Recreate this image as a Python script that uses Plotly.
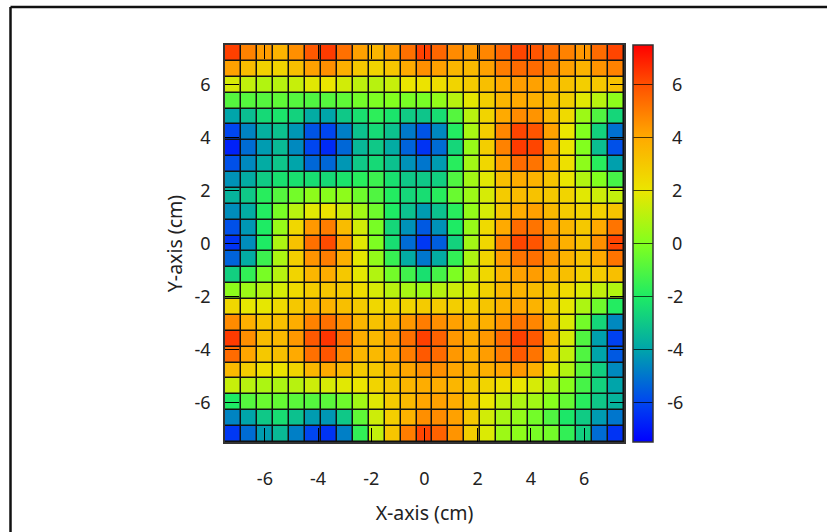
import plotly.graph_objects as go

x_centers = [-7.2, -6.6, -6.0, -5.4, -4.8, -4.2, -3.6, -3.0, -2.4, -1.8, -1.2, -0.6, 0.0,
             0.6, 1.2, 1.8, 2.4, 3.0, 3.6, 4.2, 4.8, 5.4, 6.0, 6.6, 7.2]
y_centers = list(reversed(x_centers))
tick_values = [-6, -4, -2, 0, 2, 4, 6]
x_title = "X-axis (cm)"
y_title = "Y-axis (cm)"

# rows from the top (y = 7.2) to the bottom (y = -7.2), estimated from the colours
z_rows = [
    [6.3, 4.9, 4.3, 3.7, 4.6, 5.8, 6.4, 5.3, 4.2, 3.6, 4.3, 5.3, 6.3, 5.5, 4.7, 4.4, 4.8, 5.5, 6.2, 5.9, 5.4, 4.9, 4.4, 5.4, 6.2],
    [4.2, 3.4, 2.7, 2.6, 3.3, 4.2, 4.6, 3.8, 3.0, 2.6, 3.1, 4.0, 4.6, 4.2, 3.6, 3.5, 4.2, 5.0, 5.4, 5.4, 4.9, 4.2, 3.7, 4.5, 4.9],
    [1.6, 1.2, 0.9, 1.0, 1.3, 1.8, 2.0, 1.5, 1.1, 1.0, 1.3, 2.0, 2.1, 2.3, 2.6, 2.9, 3.3, 4.0, 4.3, 4.2, 3.8, 3.2, 2.8, 3.0, 3.2],
    [-0.9, -0.9, -0.9, -0.7, -0.9, -1.0, -0.9, -0.7, -0.3, -0.1, 0.0, -0.2, -0.2, 0.3, 1.0, 1.9, 2.8, 3.6, 4.0, 3.8, 3.4, 2.8, 1.8, 1.0, 0.2],
    [-4.0, -3.3, -2.5, -2.2, -2.7, -3.8, -4.0, -3.0, -2.3, -1.7, -2.2, -2.9, -3.1, -2.4, -0.9, 1.0, 2.6, 4.0, 4.7, 4.5, 3.5, 2.4, 0.5, -1.0, -2.6],
    [-6.0, -4.7, -3.7, -3.2, -4.3, -5.7, -6.0, -4.8, -3.2, -2.5, -3.2, -4.9, -5.7, -4.6, -1.9, 0.7, 2.8, 4.8, 6.2, 5.9, 4.2, 2.0, 0.0, -2.7, -5.1],
    [-6.8, -5.2, -4.2, -3.4, -4.6, -6.0, -6.6, -5.3, -3.5, -3.0, -3.8, -5.4, -6.4, -5.2, -2.6, 0.4, 2.8, 4.9, 6.4, 6.2, 4.2, 2.0, 0.0, -3.3, -5.8],
    [-5.8, -4.6, -3.8, -3.1, -4.0, -5.3, -5.3, -4.3, -3.0, -2.5, -3.2, -4.4, -5.0, -4.2, -1.8, 0.6, 2.5, 4.2, 5.4, 5.2, 4.0, 2.2, 0.2, -1.8, -4.1],
    [-4.4, -3.8, -2.9, -2.3, -2.3, -2.4, -2.5, -2.2, -1.8, -1.4, -2.3, -3.0, -3.0, -2.8, -1.0, 0.6, 1.8, 3.3, 3.9, 3.7, 3.1, 2.0, 0.9, 0.0, -1.2],
    [-3.6, -3.0, -1.8, -0.9, -0.3, 0.2, 0.1, 0.2, -0.4, -1.0, -1.9, -2.6, -2.4, -1.8, -0.5, 0.5, 1.6, 2.9, 3.4, 3.2, 3.0, 2.6, 1.8, 1.4, 1.2],
    [-4.5, -3.8, -1.9, -0.2, 1.0, 1.8, 2.1, 1.4, 0.6, -0.4, -2.0, -3.2, -4.2, -3.2, -1.8, 0.3, 1.6, 3.0, 3.9, 4.2, 3.5, 2.9, 2.6, 2.7, 3.1],
    [-5.8, -4.3, -2.0, 0.4, 2.5, 4.4, 5.0, 3.4, 1.5, -0.2, -2.6, -4.4, -5.6, -4.4, -2.0, 0.4, 2.4, 4.0, 5.4, 5.2, 4.3, 3.6, 3.0, 4.0, 5.2],
    [-6.4, -4.5, -2.0, 0.8, 3.2, 5.3, 6.1, 4.3, 1.8, -0.1, -2.4, -5.2, -6.3, -5.5, -2.7, 0.6, 2.5, 4.9, 6.2, 5.9, 4.6, 3.8, 3.2, 4.6, 6.2],
    [-5.4, -3.8, -1.4, 0.8, 2.8, 4.5, 5.0, 3.8, 1.9, 0.3, -1.5, -3.8, -5.0, -3.8, -1.6, 0.8, 2.6, 4.3, 5.2, 5.3, 4.4, 3.7, 3.2, 4.0, 5.2],
    [-2.8, -1.6, -0.2, 1.0, 2.6, 3.6, 3.9, 3.0, 1.9, 0.9, -0.3, -1.3, -2.3, -1.2, -0.1, 1.2, 2.5, 3.6, 4.2, 4.3, 3.6, 3.3, 2.7, 2.9, 3.3],
    [0.2, 0.5, 1.0, 1.6, 2.4, 2.9, 3.1, 2.9, 2.3, 1.6, 1.0, 0.7, 0.5, 1.0, 1.4, 1.7, 2.7, 3.5, 3.7, 3.4, 3.0, 2.4, 1.7, 1.2, 0.9],
    [2.5, 1.9, 1.9, 2.4, 3.0, 3.5, 3.7, 3.3, 2.9, 2.5, 2.5, 2.6, 2.9, 2.9, 2.8, 2.7, 3.1, 3.7, 4.1, 3.7, 2.9, 1.9, 0.8, -0.4, -1.9],
    [4.7, 3.8, 3.1, 3.3, 3.9, 4.9, 5.3, 4.6, 3.6, 3.2, 3.6, 4.4, 5.0, 4.6, 4.2, 3.6, 3.8, 4.5, 5.2, 4.8, 3.4, 1.7, -0.3, -2.6, -4.6],
    [6.4, 4.6, 3.4, 3.5, 4.4, 5.8, 6.5, 5.3, 3.9, 3.5, 4.2, 5.3, 6.3, 5.6, 4.4, 3.9, 4.4, 5.4, 6.3, 5.8, 3.8, 1.6, -1.0, -4.1, -6.1],
    [5.4, 4.1, 3.0, 3.3, 4.0, 5.3, 5.9, 4.7, 3.6, 3.5, 4.0, 5.0, 5.8, 5.4, 4.4, 3.8, 4.3, 5.0, 5.8, 5.2, 3.2, 1.2, -1.0, -4.0, -5.6],
    [3.5, 2.8, 2.2, 2.1, 2.6, 3.6, 4.0, 3.5, 2.9, 3.0, 3.6, 4.1, 4.6, 4.6, 4.1, 3.7, 3.8, 4.1, 4.4, 3.8, 2.3, 0.9, -0.8, -2.8, -4.6],
    [1.3, 1.0, 0.8, 0.8, 1.0, 1.4, 1.6, 1.8, 2.0, 2.6, 3.0, 3.6, 3.9, 3.9, 3.6, 3.0, 2.6, 2.2, 2.0, 1.6, 1.0, 0.1, -1.2, -2.7, -4.0],
    [-2.0, -0.9, -0.5, -0.6, -0.8, -0.9, -0.8, -0.4, 0.6, 1.8, 2.9, 3.5, 4.1, 4.2, 3.9, 3.0, 2.0, 1.2, 0.8, 0.6, 0.1, -0.6, -1.8, -3.0, -3.6],
    [-4.7, -4.0, -3.0, -2.4, -3.2, -4.2, -4.3, -3.0, -0.7, 1.4, 2.8, 3.7, 4.6, 4.7, 4.2, 3.0, 1.5, 0.7, 0.3, -0.3, -1.0, -2.1, -2.9, -4.2, -5.0],
    [-6.3, -5.2, -4.2, -3.4, -4.8, -6.0, -6.4, -4.8, -1.6, 1.2, 3.1, 5.0, 6.2, 5.6, 4.5, 2.8, 1.7, 0.5, 0.2, -0.2, -0.3, -1.6, -2.8, -5.2, -6.4],
]

z_min, z_max = -7.5, 7.5
colorscale = [
    [0.0, "rgb(0,0,255)"],
    [0.1, "rgb(0,70,240)"],
    [0.2333, "rgb(0,165,170)"],
    [0.3667, "rgb(30,235,100)"],
    [0.5, "rgb(130,255,30)"],
    [0.6333, "rgb(235,230,0)"],
    [0.7667, "rgb(255,170,0)"],
    [0.9, "rgb(255,80,0)"],
    [1.0, "rgb(255,0,0)"],
]

FONT = "Noto Sans"
TXT = "#222222"
SIZE = 18
TITLE_SIZE = 19.5
tick_labels = [str(v) for v in tick_values]
bar_labels = [("\u00a0\u00a0" if v < 0 else "\u00a0\u00a0\u00a0") + str(v) for v in tick_values]

fig = go.Figure(go.Heatmap(
    x=x_centers, y=y_centers, z=z_rows, zmin=z_min, zmax=z_max,
    colorscale=colorscale, xgap=1.5, ygap=1.5,
    colorbar=dict(
        x=(633 - 225) / 399, xanchor="left", y=0.5, yanchor="middle",
        thickness=20, thicknessmode="pixels",
        len=1, lenmode="fraction",
        outlinecolor="#333333", outlinewidth=1.5,
        tickmode="array", tickvals=tick_values, ticktext=bar_labels,
        ticks="inside", ticklen=20, tickcolor="rgba(0,0,0,0.7)", tickwidth=1,
        tickfont=dict(family=FONT, size=SIZE, color=TXT),
        xpad=0, ypad=0,
    ),
))

axis_common = dict(
    range=[-7.5, 7.5], tickmode="array", tickvals=tick_values, ticktext=tick_labels,
    ticks="inside", ticklen=14, tickcolor="black", tickwidth=1.2,
    mirror="allticks", showline=True, linecolor="#333333", linewidth=1.5,
    showgrid=False, zeroline=False,
    tickfont=dict(family=FONT, size=SIZE, color=TXT),
)

fig.update_layout(
    width=827, height=532, autosize=False,
    margin=dict(l=225, r=203, t=45, b=90, pad=0),
    paper_bgcolor="white", plot_bgcolor="#111111",
    font=dict(family=FONT, size=SIZE, color=TXT),
    xaxis=dict(axis_common, ticklabelstandoff=20,
               title=dict(text=x_title, standoff=17, font=dict(family=FONT, size=TITLE_SIZE, color=TXT))),
    yaxis=dict(axis_common, ticklabelstandoff=9,
               title=dict(text=y_title, standoff=7, font=dict(family=FONT, size=TITLE_SIZE, color=TXT))),
    shapes=[
        dict(type="line", xref="paper", yref="paper", x0=(10.5 - 225) / 399, x1=(827 - 225) / 399,
             y0=1 + (45 - 7) / 397, y1=1 + (45 - 7) / 397, line=dict(color="#111111", width=2.5)),
        dict(type="line", xref="paper", yref="paper", x0=(10.5 - 225) / 399, x1=(10.5 - 225) / 399,
             y0=-90 / 397, y1=1 + (45 - 7) / 397, line=dict(color="#111111", width=2.5)),
    ],
)

fig.write_html("out.html", config={"displayModeBar": False},
               post_script="document.body.style.margin='0';document.body.style.overflow='hidden';")
